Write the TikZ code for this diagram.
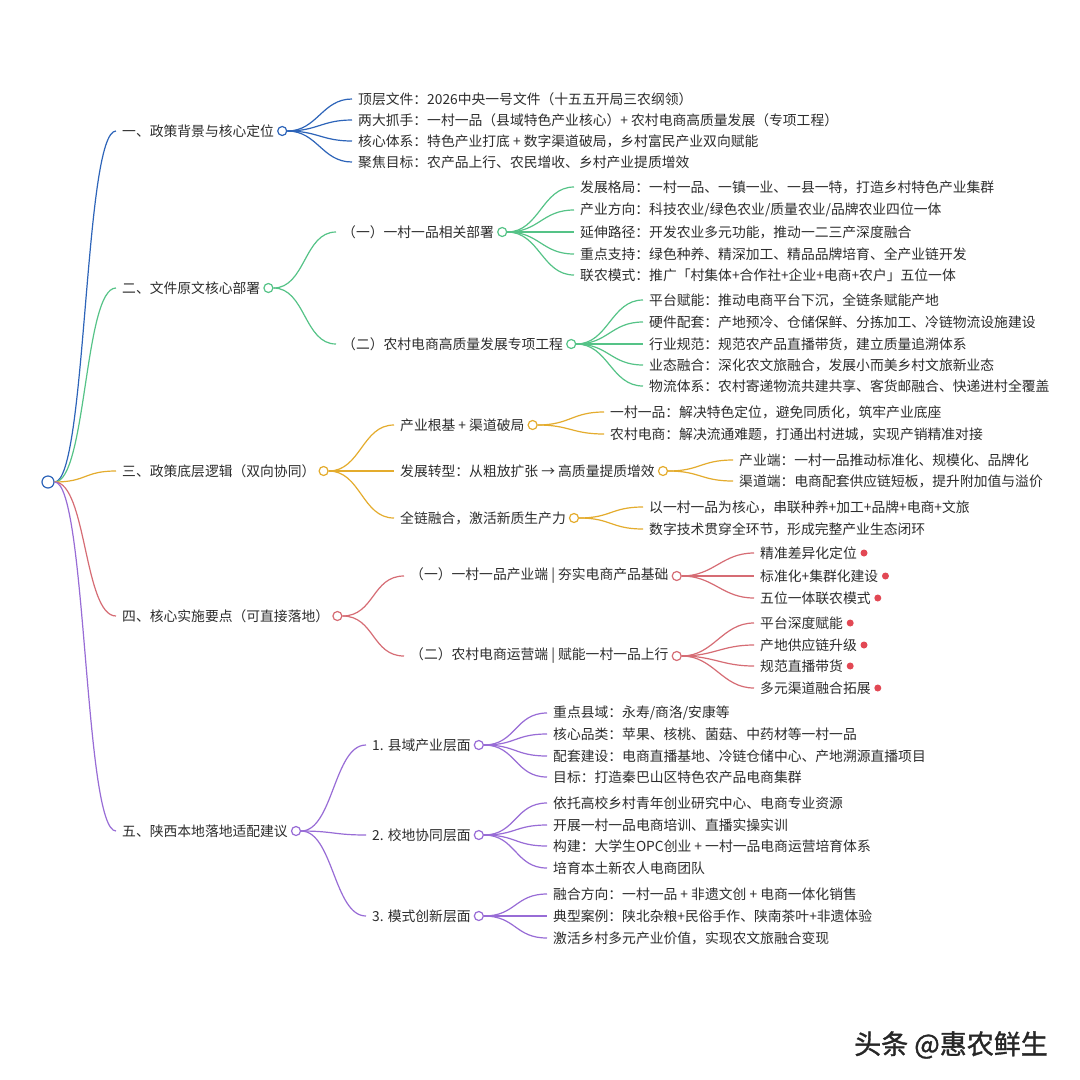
\documentclass[tikz,border=0pt]{standalone}
\usepackage{fontspec}
\setmainfont{Noto Sans CJK SC}
\newfontfamily\markfont[FakeBold=1.2]{Noto Sans CJK SC}
\definecolor{ink}{RGB}{45,45,45}
\definecolor{mmblue}{RGB}{45,100,185}
\definecolor{mmgreen}{RGB}{85,195,135}
\definecolor{mmgold}{RGB}{228,172,45}
\definecolor{mmred}{RGB}{214,108,116}
\definecolor{mmdot}{RGB}{226,72,84}
\definecolor{mmpurple}{RGB}{152,108,214}

\begin{document}
\begin{tikzpicture}[x=1pt, y=-1pt,
        topic/.style={anchor=west, inner xsep=6pt, inner ysep=1pt, text=ink, font=\fontsize{13.8}{16}\selectfont},
        hub/.style={circle, draw, fill=white, minimum size=9pt, inner sep=0pt, line width=1.2pt},
        reddot/.style={circle, fill=mmdot, minimum size=7pt, inner sep=0pt},
        branch/.style={line width=1.2pt}
    ]
        \fill[white] (0,0) rectangle (1080,1080);
        \useasboundingbox (0,0) rectangle (1080,1080);

        % root and main topics
        \node[hub, draw=mmblue, minimum size=12pt] (root) at (48,482) {};
        \node[topic] (bg) at (116,131) {一、政策背景与核心定位};
        \node[topic] (doc) at (116,288) {二、文件原文核心部署};
        \node[topic] (logic) at (116,471) {三、政策底层逻辑（双向协同）};
        \node[topic] (impl) at (116,616) {四、核心实施要点（可直接落地）};
        \node[topic] (local) at (116,831) {五、陕西本地落地适配建议};
        \node[hub, draw=mmblue] (bg-o) at ([xshift=2pt]bg.east) {};
        \node[hub, draw=mmgreen] (doc-o) at ([xshift=2pt]doc.east) {};
        \node[hub, draw=mmgold] (logic-o) at ([xshift=2pt]logic.east) {};
        \node[hub, draw=mmred] (impl-o) at ([xshift=2pt]impl.east) {};
        \node[hub, draw=mmpurple] (local-o) at ([xshift=2pt]local.east) {};

        \draw[branch, mmblue] (root.east) .. controls +(32,0) and +(-32,0) .. (bg.west);
        \draw[branch, mmgreen] (root.east) .. controls +(32,0) and +(-32,0) .. (doc.west);
        \draw[branch, mmgold] (root.east) .. controls +(32,0) and +(-32,0) .. (logic.west);
        \draw[branch, mmred] (root.east) .. controls +(32,0) and +(-32,0) .. (impl.west);
        \draw[branch, mmpurple] (root.east) .. controls +(32,0) and +(-32,0) .. (local.west);

        % 一
        \node[topic] (bg1) at (352,99) {顶层文件：2026中央一号文件（十五五开局三农纲领）};
        \node[topic] (bg2) at (352,120) {两大抓手：一村一品（县域特色产业核心）+ 农村电商高质量发展（专项工程）};
        \node[topic] (bg3) at (352,141) {核心体系：特色产业打底 + 数字渠道破局，乡村富民产业双向赋能};
        \node[topic] (bg4) at (352,162) {聚焦目标：农产品上行、农民增收、乡村产业提质增效};
        \draw[branch, mmblue] (bg-o.east) .. controls +(30,0) and +(-30,0) .. (bg1.west);
        \draw[branch, mmblue] (bg-o.east) .. controls +(30,0) and +(-30,0) .. (bg2.west);
        \draw[branch, mmblue] (bg-o.east) .. controls +(30,0) and +(-30,0) .. (bg3.west);
        \draw[branch, mmblue] (bg-o.east) .. controls +(30,0) and +(-30,0) .. (bg4.west);

        % 二
        \node[topic] (doca) at (336,232) {（一）一村一品相关部署};
        \node[topic] (docb) at (336,344) {（二）农村电商高质量发展专项工程};
        \node[hub, draw=mmgreen] (doca-o) at ([xshift=2pt]doca.east) {};
        \node[hub, draw=mmgreen] (docb-o) at ([xshift=2pt]docb.east) {};
        \draw[branch, mmgreen] (doc-o.east) .. controls +(32,0) and +(-32,0) .. (doca.west);
        \draw[branch, mmgreen] (doc-o.east) .. controls +(32,0) and +(-32,0) .. (docb.west);
        \node[topic] (doca1) at (574,187) {发展格局：一村一品、一镇一业、一县一特，打造乡村特色产业集群};
        \node[topic] (doca2) at (574,210) {产业方向：科技农业/绿色农业/质量农业/品牌农业四位一体};
        \node[topic] (doca3) at (574,232) {延伸路径：开发农业多元功能，推动一二三产深度融合};
        \node[topic] (doca4) at (574,254) {重点支持：绿色种养、精深加工、精品品牌培育、全产业链开发};
        \node[topic] (doca5) at (574,275) {联农模式：推广「村集体+合作社+企业+电商+农户」五位一体};
        \draw[branch, mmgreen] (doca-o.east) .. controls +(32,0) and +(-32,0) .. (doca1.west);
        \draw[branch, mmgreen] (doca-o.east) .. controls +(32,0) and +(-32,0) .. (doca2.west);
        \draw[branch, mmgreen] (doca-o.east) .. controls +(32,0) and +(-32,0) .. (doca3.west);
        \draw[branch, mmgreen] (doca-o.east) .. controls +(32,0) and +(-32,0) .. (doca4.west);
        \draw[branch, mmgreen] (doca-o.east) .. controls +(32,0) and +(-32,0) .. (doca5.west);
        \node[topic] (docb1) at (643,300) {平台赋能：推动电商平台下沉，全链条赋能产地};
        \node[topic] (docb2) at (643,322) {硬件配套：产地预冷、仓储保鲜、分拣加工、冷链物流设施建设};
        \node[topic] (docb3) at (643,344) {行业规范：规范农产品直播带货，建立质量追溯体系};
        \node[topic] (docb4) at (643,365) {业态融合：深化农文旅融合，发展小而美乡村文旅新业态};
        \node[topic] (docb5) at (643,386) {物流体系：农村寄递物流共建共享、客货邮融合、快递进村全覆盖};
        \draw[branch, mmgreen] (docb-o.east) .. controls +(32,0) and +(-32,0) .. (docb1.west);
        \draw[branch, mmgreen] (docb-o.east) .. controls +(32,0) and +(-32,0) .. (docb2.west);
        \draw[branch, mmgreen] (docb-o.east) .. controls +(32,0) and +(-32,0) .. (docb3.west);
        \draw[branch, mmgreen] (docb-o.east) .. controls +(32,0) and +(-32,0) .. (docb4.west);
        \draw[branch, mmgreen] (docb-o.east) .. controls +(32,0) and +(-32,0) .. (docb5.west);

        % 三
        \node[topic] (logica) at (394,425) {产业根基 + 渠道破局};
        \node[topic] (logicb) at (394,471) {发展转型：从粗放扩张 → 高质量提质增效};
        \node[topic] (logicc) at (394,518) {全链融合，激活新质生产力};
        \node[hub, draw=mmgold] (logica-o) at ([xshift=2pt]logica.east) {};
        \node[hub, draw=mmgold] (logicb-o) at ([xshift=2pt]logicb.east) {};
        \node[hub, draw=mmgold] (logicc-o) at ([xshift=2pt]logicc.east) {};
        \draw[branch, mmgold] (logic-o.east) .. controls +(32,0) and +(-32,0) .. (logica.west);
        \draw[branch, mmgold] (logic-o.east) .. controls +(32,0) and +(-32,0) .. (logicb.west);
        \draw[branch, mmgold] (logic-o.east) .. controls +(32,0) and +(-32,0) .. (logicc.west);
        \node[topic] (logica1) at (604,412) {一村一品：解决特色定位，避免同质化，筑牢产业底座};
        \node[topic] (logica2) at (604,434) {农村电商：解决流通难题，打通出村进城，实现产销精准对接};
        \node[topic] (logicb1) at (733,460) {产业端：一村一品推动标准化、规模化、品牌化};
        \node[topic] (logicb2) at (733,481) {渠道端：电商配套供应链短板，提升附加值与溢价};
        \node[topic] (logicc1) at (643,507) {以一村一品为核心，串联种养+加工+品牌+电商+文旅};
        \node[topic] (logicc2) at (643,529) {数字技术贯穿全环节，形成完整产业生态闭环};
        \draw[branch, mmgold] (logica-o.east) .. controls +(32,0) and +(-32,0) .. (logica1.west);
        \draw[branch, mmgold] (logica-o.east) .. controls +(32,0) and +(-32,0) .. (logica2.west);
        \draw[branch, mmgold] (logicb-o.east) .. controls +(32,0) and +(-32,0) .. (logicb1.west);
        \draw[branch, mmgold] (logicb-o.east) .. controls +(32,0) and +(-32,0) .. (logicb2.west);
        \draw[branch, mmgold] (logicc-o.east) .. controls +(32,0) and +(-32,0) .. (logicc1.west);
        \draw[branch, mmgold] (logicc-o.east) .. controls +(32,0) and +(-32,0) .. (logicc2.west);

        % 四
        \node[topic] (impla) at (404,576) {（一）一村一品产业端 | 夯实电商产品基础};
        \node[topic] (implb) at (404,656) {（二）农村电商运营端 | 赋能一村一品上行};
        \node[hub, draw=mmred] (impla-o) at ([xshift=2pt]impla.east) {};
        \node[hub, draw=mmred] (implb-o) at ([xshift=2pt]implb.east) {};
        \draw[branch, mmred] (impl-o.east) .. controls +(32,0) and +(-32,0) .. (impla.west);
        \draw[branch, mmred] (impl-o.east) .. controls +(32,0) and +(-32,0) .. (implb.west);
        \node[topic] (impla1) at (754,553) {精准差异化定位};
        \node[topic] (impla2) at (754,576) {标准化+集群化建设};
        \node[topic] (impla3) at (754,598) {五位一体联农模式};
        \node[topic] (implb1) at (754,623) {平台深度赋能};
        \node[topic] (implb2) at (754,645) {产地供应链升级};
        \node[topic] (implb3) at (754,666) {规范直播带货};
        \node[topic] (implb4) at (754,688) {多元渠道融合拓展};
        \node[reddot] (impla1-d) at ([xshift=1pt]impla1.east) {};
        \node[reddot] (impla2-d) at ([xshift=1pt]impla2.east) {};
        \node[reddot] (impla3-d) at ([xshift=1pt]impla3.east) {};
        \node[reddot] (implb1-d) at ([xshift=1pt]implb1.east) {};
        \node[reddot] (implb2-d) at ([xshift=1pt]implb2.east) {};
        \node[reddot] (implb3-d) at ([xshift=1pt]implb3.east) {};
        \node[reddot] (implb4-d) at ([xshift=1pt]implb4.east) {};
        \draw[branch, mmred] (impla-o.east) .. controls +(32,0) and +(-32,0) .. (impla1.west);
        \draw[branch, mmred] (impla-o.east) .. controls +(32,0) and +(-32,0) .. (impla2.west);
        \draw[branch, mmred] (impla-o.east) .. controls +(32,0) and +(-32,0) .. (impla3.west);
        \draw[branch, mmred] (implb-o.east) .. controls +(32,0) and +(-32,0) .. (implb1.west);
        \draw[branch, mmred] (implb-o.east) .. controls +(32,0) and +(-32,0) .. (implb2.west);
        \draw[branch, mmred] (implb-o.east) .. controls +(32,0) and +(-32,0) .. (implb3.west);
        \draw[branch, mmred] (implb-o.east) .. controls +(32,0) and +(-32,0) .. (implb4.west);

        % 五
        \node[topic] (locala) at (366,745) {1. 县域产业层面};
        \node[topic] (localb) at (366,835) {2. 校地协同层面};
        \node[topic] (localc) at (366,916) {3. 模式创新层面};
        \node[hub, draw=mmpurple] (locala-o) at ([xshift=2pt]locala.east) {};
        \node[hub, draw=mmpurple] (localb-o) at ([xshift=2pt]localb.east) {};
        \node[hub, draw=mmpurple] (localc-o) at ([xshift=2pt]localc.east) {};
        \draw[branch, mmpurple] (local-o.east) .. controls +(32,0) and +(-32,0) .. (locala.west);
        \draw[branch, mmpurple] (local-o.east) .. controls +(32,0) and +(-32,0) .. (localb.west);
        \draw[branch, mmpurple] (local-o.east) .. controls +(32,0) and +(-32,0) .. (localc.west);
        \node[topic] (locala1) at (547,713) {重点县域：永寿/商洛/安康等};
        \node[topic] (locala2) at (547,734) {核心品类：苹果、核桃、菌菇、中药材等一村一品};
        \node[topic] (locala3) at (547,756) {配套建设：电商直播基地、冷链仓储中心、产地溯源直播项目};
        \node[topic] (locala4) at (547,777) {目标：打造秦巴山区特色农产品电商集群};
        \node[topic] (localb1) at (547,803) {依托高校乡村青年创业研究中心、电商专业资源};
        \node[topic] (localb2) at (547,825) {开展一村一品电商培训、直播实操实训};
        \node[topic] (localb3) at (547,846) {构建：大学生OPC创业 + 一村一品电商运营培育体系};
        \node[topic] (localb4) at (547,868) {培育本土新农人电商团队};
        \node[topic] (localc1) at (547,894) {融合方向：一村一品 + 非遗文创 + 电商一体化销售};
        \node[topic] (localc2) at (547,916) {典型案例：陕北杂粮+民俗手作、陕南茶叶+非遗体验};
        \node[topic] (localc3) at (547,938) {激活乡村多元产业价值，实现农文旅融合变现};
        \draw[branch, mmpurple] (locala-o.east) .. controls +(32,0) and +(-32,0) .. (locala1.west);
        \draw[branch, mmpurple] (locala-o.east) .. controls +(32,0) and +(-32,0) .. (locala2.west);
        \draw[branch, mmpurple] (locala-o.east) .. controls +(32,0) and +(-32,0) .. (locala3.west);
        \draw[branch, mmpurple] (locala-o.east) .. controls +(32,0) and +(-32,0) .. (locala4.west);
        \draw[branch, mmpurple] (localb-o.east) .. controls +(32,0) and +(-32,0) .. (localb1.west);
        \draw[branch, mmpurple] (localb-o.east) .. controls +(32,0) and +(-32,0) .. (localb2.west);
        \draw[branch, mmpurple] (localb-o.east) .. controls +(32,0) and +(-32,0) .. (localb3.west);
        \draw[branch, mmpurple] (localb-o.east) .. controls +(32,0) and +(-32,0) .. (localb4.west);
        \draw[branch, mmpurple] (localc-o.east) .. controls +(32,0) and +(-32,0) .. (localc1.west);
        \draw[branch, mmpurple] (localc-o.east) .. controls +(32,0) and +(-32,0) .. (localc2.west);
        \draw[branch, mmpurple] (localc-o.east) .. controls +(32,0) and +(-32,0) .. (localc3.west);

        \node[anchor=west, inner sep=0pt, text=black!85, font=\markfont\fontsize{27}{30}\selectfont] (mark) at (854,1045) {头条 @惠农鲜生};
    \end{tikzpicture}
\end{document}
